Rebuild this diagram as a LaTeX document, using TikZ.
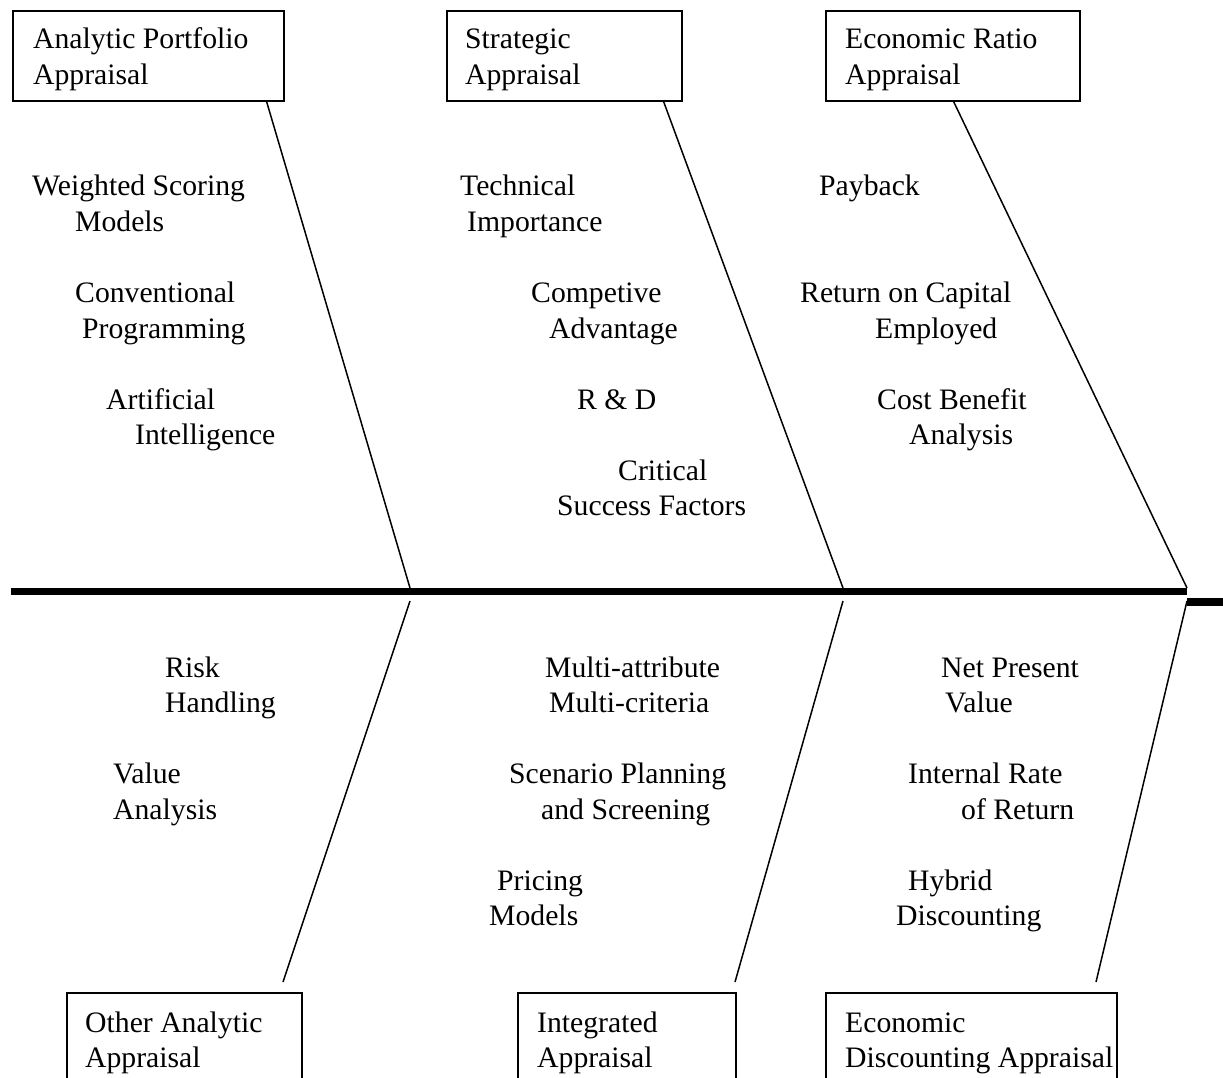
\documentclass[tikz,border=0pt]{standalone}
\usepackage{fontspec}
\setmainfont{Liberation Serif}
\begin{document}
\begin{tikzpicture}[x=1pt,y=-1pt,
  lbl/.style={anchor=base west, inner sep=0pt, yshift=-2pt, font=\fontsize{29.7}{35.5}\selectfont},
  catbox/.style={draw, line width=1.6pt, anchor=north west, inner sep=0pt, minimum height=90pt},
  openbox/.style={draw, line width=1.6pt, anchor=north west, inner sep=0pt, minimum height=130pt},
  bone/.style={line width=1.5pt},
  spineline/.style={line width=7pt},
  stub/.style={line width=8pt}]
\useasboundingbox (0,0) rectangle (1223,1078);
\clip (0,0) rectangle (1223,1078);

% category boxes (top)
\node[catbox, minimum width=271pt] (apa) at (12,10) {};
\node[catbox, minimum width=235pt] (sa) at (446,10) {};
\node[catbox, minimum width=254pt] (era) at (825,10) {};
% category boxes (bottom, cut at the lower edge)
\node[openbox, minimum width=235pt] (oaa) at (66,992) {};
\node[openbox, minimum width=218pt] (ia) at (517,992) {};
\node[openbox, minimum width=291pt] (eda) at (825,992) {};

% box texts
\node[lbl] (apa1) at (33,47) {Analytic Portfolio};
\node[lbl] (apa2) at (33,82.5) {Appraisal};
\node[lbl] (sa1) at (465,47) {Strategic};
\node[lbl] (sa2) at (465,82.5) {Appraisal};
\node[lbl] (era1) at (845,47) {Economic Ratio};
\node[lbl] (era2) at (845,82.5) {Appraisal};
\node[lbl] (oaa1) at (85,1030) {Other Analytic};
\node[lbl] (oaa2) at (85,1065.5) {Appraisal};
\node[lbl] (ia1) at (537,1030) {Integrated};
\node[lbl] (ia2) at (537,1065.5) {Appraisal};
\node[lbl] (eda1) at (845,1030) {Economic};
\node[lbl] (eda2) at (845,1065.5) {Discounting Appraisal};

% spine
\coordinate (tail) at (11,591.5);
\coordinate (head) at (1187,591.5);
\coordinate (stubA) at (1187,602);
\coordinate (stubB) at (1223,602);
\draw[spineline] (tail) -- (head);
\draw[stub] (stubA) -- (stubB);

% joints on the spine
\coordinate (j1t) at (410,588);
\coordinate (j2t) at (843,588);
\coordinate (j3t) at (1187,588);
\coordinate (j1b) at (410,601);
\coordinate (j2b) at (843,601);
\coordinate (j3b) at (1187,601);
\coordinate (e1) at (283,982);
\coordinate (e2) at (735,982);
\coordinate (e3) at (1096,982);

% bones
\draw[bone] ([xshift=-18pt]apa.south east) -- (j1t);
\draw[bone] ([xshift=-19pt]sa.south east) -- (j2t);
\draw[bone] ([xshift=-127pt]era.south east) -- (j3t);
\draw[bone] (j1b) -- (e1);
\draw[bone] (j2b) -- (e2);
\draw[bone] (j3b) -- (e3);

% top-left items
\node[lbl] (t11) at (32,194) {Weighted Scoring};
\node[lbl] (t12) at (75,229.5) {Models};
\node[lbl] (t13) at (75,300.5) {Conventional};
\node[lbl] (t14) at (82,336) {Programming};
\node[lbl] (t15) at (106,407) {Artificial};
\node[lbl] (t16) at (135,442.5) {Intelligence};
% top-middle items
\node[lbl] (t21) at (460,194) {Technical};
\node[lbl] (t22) at (467,229.5) {Importance};
\node[lbl] (t23) at (531,300.5) {Competive};
\node[lbl] (t24) at (549,336) {Advantage};
\node[lbl] (t25) at (577,407) {R \& D};
\node[lbl] (t26) at (618,478) {Critical};
\node[lbl] (t27) at (557,513.5) {Success Factors};
% top-right items
\node[lbl] (t31) at (819,194) {Payback};
\node[lbl] (t32) at (800,300.5) {Return on Capital};
\node[lbl] (t33) at (875,336) {Employed};
\node[lbl] (t34) at (877,407) {Cost Benefit};
\node[lbl] (t35) at (909,442.5) {Analysis};

% bottom-left items
\node[lbl] (b11) at (165,675) {Risk};
\node[lbl] (b12) at (165,710.5) {Handling};
\node[lbl] (b13) at (113,781.5) {Value};
\node[lbl] (b14) at (113,817) {Analysis};
% bottom-middle items
\node[lbl] (b21) at (545,675) {Multi-attribute};
\node[lbl] (b22) at (549,710.5) {Multi-criteria};
\node[lbl] (b23) at (509,781.5) {Scenario Planning};
\node[lbl] (b24) at (541,817) {and Screening};
\node[lbl] (b25) at (497,888) {Pricing};
\node[lbl] (b26) at (489,923.5) {Models};
% bottom-right items
\node[lbl] (b31) at (941,675) {Net Present};
\node[lbl] (b32) at (945,710.5) {Value};
\node[lbl] (b33) at (908,781.5) {Internal Rate};
\node[lbl] (b34) at (961,817) {of Return};
\node[lbl] (b35) at (908,888) {Hybrid};
\node[lbl] (b36) at (896,923.5) {Discounting};
\end{tikzpicture}
\end{document}
